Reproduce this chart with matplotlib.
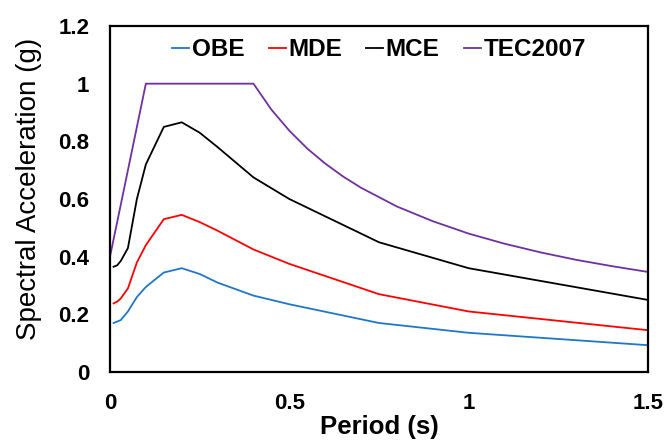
import matplotlib
matplotlib.use("Agg")
import matplotlib.pyplot as plt

plt.rcParams['font.family'] = ['Liberation Sans', 'DejaVu Sans']

# spectral periods (s)
periods = [0.01, 0.02, 0.03, 0.05, 0.075, 0.1, 0.15, 0.2, 0.25, 0.3, 0.4, 0.5, 0.75, 1.0, 1.5]
obe = [0.17, 0.175, 0.18, 0.21, 0.26, 0.295, 0.345, 0.36, 0.34, 0.31, 0.265, 0.235, 0.17, 0.136, 0.093]
mde = [0.238, 0.244, 0.255, 0.29, 0.38, 0.44, 0.53, 0.545, 0.52, 0.49, 0.425, 0.375, 0.27, 0.21, 0.145]
mce = [0.365, 0.37, 0.385, 0.43, 0.6, 0.72, 0.85, 0.866, 0.83, 0.78, 0.675, 0.6, 0.45, 0.36, 0.25]

# design spectrum
tec_t = [0.0, 0.1, 0.4, 0.45, 0.5, 0.55, 0.6, 0.65, 0.7, 0.8, 0.9, 1.0, 1.1, 1.2, 1.3, 1.4, 1.5]
tec_sa = [0.4, 1.0, 1.0, 0.91, 0.837, 0.775, 0.723, 0.678, 0.639, 0.574, 0.523, 0.48, 0.445, 0.415, 0.389, 0.367, 0.347]

fig = plt.figure(figsize=(6.65, 4.46), dpi=100)
ax = fig.add_axes([0.1654, 0.1659, 0.809, 0.7758])

lw = 1.3
ax.plot(periods, obe, color='#1f77c8', lw=lw, label='OBE')
ax.plot(periods, mde, color='#ff0000', lw=lw, label='MDE')
ax.plot(periods, mce, color='black', lw=lw, label='MCE')
ax.plot(tec_t, tec_sa, color='#7030a0', lw=lw, label='TEC2007')

ax.set_xlim(0, 1.5)
ax.set_ylim(0, 1.2)
ax.set_xticks([0, 0.5, 1, 1.5])
ax.set_xticklabels(['0', '0.5', '1', '1.5'])
ax.set_yticks([0, 0.2, 0.4, 0.6, 0.8, 1.0, 1.2])
ax.set_yticklabels(['0', '0.2', '0.4', '0.6', '0.8', '1', '1.2'])
ax.tick_params(length=0, labelsize=16, pad=15)
for lab in ax.get_xticklabels() + ax.get_yticklabels():
    lab.set_fontweight('bold')
for sp in ax.spines.values():
    sp.set_linewidth(1.6)

ax.set_xlabel('Period (s)', fontsize=18.5, fontweight='bold')
ax.set_ylabel('Spectral Acceleration (g)', fontsize=20)
ax.xaxis.set_label_coords(0.5, -0.125)
ax.yaxis.set_label_coords(-0.127, 0.53)

ax.legend(loc='upper center', ncol=4, frameon=False,
          handlelength=0.7, handletextpad=0.1, columnspacing=1.0,
          borderaxespad=0.1, prop={'weight': 'bold', 'size': 17.5})

fig.savefig('out.png', dpi=100)
